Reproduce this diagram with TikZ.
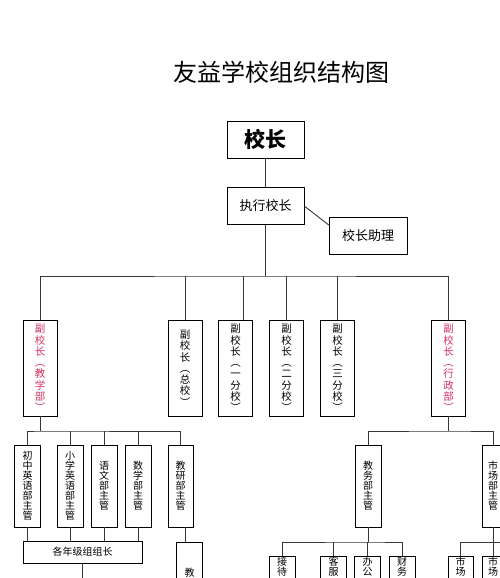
\documentclass[tikz,border=0pt]{standalone}
\usepackage{fontspec}
\setmainfont{Noto Sans CJK SC}
\usepackage{tikz}
\usetikzlibrary{positioning, calc}
\definecolor{vpred}{RGB}{214,50,96}
\definecolor{linegray}{RGB}{55,55,55}

\begin{document}
\begin{tikzpicture}[
  x=1pt, y=-1pt,
  font=\fontsize{13}{15}\selectfont,
  % Node styles
  head/.style  = {rectangle, draw, semithick, minimum width=77pt,
                  minimum height=37pt, inner sep=0pt,
                  font=\fontsize{21}{23}\selectfont\bfseries},
  exec/.style  = {rectangle, draw, semithick, minimum width=77pt,
                  minimum height=37pt, inner sep=0pt},
  vp/.style    = {rectangle, draw, semithick, minimum width=34pt,
                  minimum height=96pt, inner sep=0pt, align=center,
                  font=\fontsize{10.5}{11.3}\selectfont},
  vpr/.style   = {vp, text=vpred},
  dept/.style  = {rectangle, draw, semithick, minimum width=26pt,
                  minimum height=82pt, inner sep=0pt, align=center,
                  font=\fontsize{10}{10}\selectfont},
  unit/.style  = {rectangle, draw, semithick, minimum width=26pt,
                  inner xsep=0pt, inner ysep=0.6pt, text depth=8pt,
                  align=center, anchor=north,
                  font=\fontsize{10}{10.6}\selectfont},
  grade/.style = {rectangle, draw, semithick, minimum width=119pt,
                  minimum height=22pt, inner sep=0pt,
                  font=\fontsize{10}{12}\selectfont},
  % Line style
  link/.style  = {linegray, line width=0.9pt}
]
\useasboundingbox (0,0) rectangle (500,578);
\clip (0,0) rectangle (500,578);
\fill[white] (0,0) rectangle (500,578);

% =========================== TOP ===========================
\node[font=\fontsize{24}{26}\selectfont] (title) at (281,72) {友益学校组织结构图};

\node[head] (zz) at (265.5,139.5) {校长};
\node[exec] (zx) at (265.5,206)   {执行校长};
\node[exec, minimum width=78pt] (zl) at (368,235.5) {校长助理};

\draw[link] (zz) -- (zx);
\draw[link] (zx.east) -- (zl.165);

% =========================== VICE PRINCIPALS ===========================
\node[vpr] (vpT) at (40,368)    {副\\校\\长\\︵\\教\\学\\部\\︶};
\node[vp]  (vpZ) at (185,368)   {副\\校\\长\\︵\\总\\校\\︶};
\node[vp]  (vp1) at (235.5,368) {副\\校\\长\\︵\\一\\分\\校\\︶};
\node[vp]  (vp2) at (286.5,368) {副\\校\\长\\︵\\二\\分\\校\\︶};
\node[vp]  (vp3) at (337.5,368) {副\\校\\长\\︵\\三\\分\\校\\︶};
\node[vpr] (vpA) at (448.5,368) {副\\校\\长\\︵\\行\\政\\部\\︶};

\coordinate (busA) at (265.5,276);
\draw[link] (zx) -- (busA);
\draw[link] (vpT.north) |- (busA) -| (vpA.north);
\foreach \n in {vpZ, vp2, vp3}
  \draw[link] (\n.north) -- (\n.north |- busA);
\draw[link] ([xshift=8pt]vp1.north) -- ([xshift=8pt]vp1.north |- busA);

% =========================== TEACHING (left) ===========================
\node[dept] (d1) at (27.5,486) {初\\中\\英\\语\\部\\主\\管};
\node[dept] (d2) at (70,486)   {小\\学\\英\\语\\部\\主\\管};
\node[dept] (d3) at (104,486)  {语\\文\\部\\主\\管};
\node[dept] (d4) at (138,486)  {数\\学\\部\\主\\管};
\node[dept, minimum width=25pt] (d5) at (180.5,486) {教\\研\\部\\主\\管};

\coordinate (busB) at (40,431);
\draw[link] (vpT) -- (busB);
\draw[link] (d1.north) |- (busB) -| (d5.north);
\foreach \n in {d2, d3, d4}
  \draw[link] (\n.north) -- (\n.north |- busB);

\node[grade] (grade) at (82.5,552) {各年级组组长};
\foreach \n in {d1, d2, d3, d4}
  \draw[link] (\n.south) -- (\n.south |- grade.north);
\coordinate (gend) at (82.5,600);
\draw[link] (grade) -- (gend);

\node[dept, anchor=north, minimum height=60pt] (jyz) at (189.5,542) {教};
\draw[link] ([xshift=4.5pt]d5.south) -- ([xshift=4.5pt]d5.south |- jyz.north);

% =========================== ADMIN (right) ===========================
\node[dept] (jw) at (368,486) {教\\务\\部\\主\\管};
\node[dept, minimum width=22pt] (sc) at (493,486) {市\\场\\部\\主\\管};

\coordinate (busC) at (448.5,431);
\draw[link] (vpA) -- (busC);
\draw[link] (jw.north) |- (busC) -| (sc.north);

\node[unit] (u1) at (282,556)   {接\\待};
\node[unit] (u2) at (333.5,556) {客\\服};
\node[unit] (u3) at (367.5,556) {办\\公};
\node[unit] (u4) at (402,556)   {财\\务};

\coordinate (busD) at (368,542);
\draw[link] (jw) -- (busD);
\draw[link] (u1.north) |- (busD) -| (u4.north);
\foreach \n in {u2, u3}
  \draw[link] (\n.north) -- (\n.north |- busD);

\node[unit, minimum width=25pt] (m1) at (460.5,556) {市\\场};
\node[unit, minimum width=22pt] (m2) at (493,556)   {市\\场};

\coordinate (busE) at (493,542);
\coordinate (mR)   at (510,542);
\draw[link] (sc) -- (busE);
\draw[link] (m1.north) |- (mR);
\draw[link] (m2.north) -- (busE);

\end{tikzpicture}
\end{document}
